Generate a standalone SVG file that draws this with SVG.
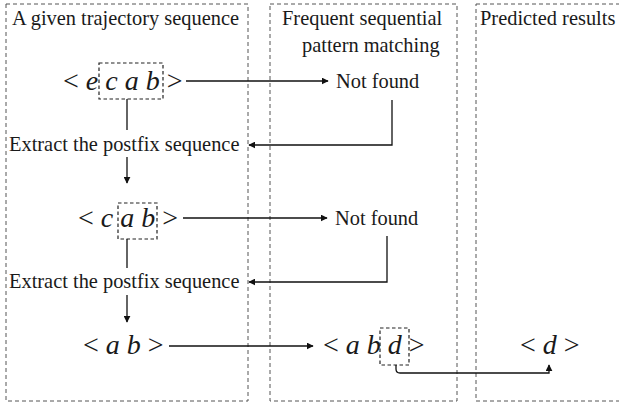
<svg xmlns="http://www.w3.org/2000/svg" width="619" height="406" viewBox="0 0 619 406">
<style>
.panel{fill:none;stroke:#555;stroke-width:1;stroke-dasharray:4 3}
.box{fill:none;stroke:#222;stroke-width:1.2;stroke-dasharray:3.5 2.5}
.lbl{font-family:"Liberation Serif","Times New Roman",serif;font-size:20.4px;fill:#1a1a1a}
.seq{font-family:"Liberation Serif","Times New Roman",serif;font-size:28px;fill:#1a1a1a}
.i{font-style:italic}
.c{fill:none;stroke:#111;stroke-width:1.3}
</style>
<defs>
<marker id="ah" viewBox="0 0 10 10" refX="9" refY="5" markerWidth="7" markerHeight="7" markerUnits="userSpaceOnUse" orient="auto">
<path d="M0,0 L10,5 L0,10 z" fill="#111"/>
</marker>
</defs>
<g id="panels">
<rect class="panel" x="6" y="4" width="242" height="397"/>
<rect class="panel" x="270" y="4" width="187" height="397"/>
<rect class="panel" x="476" y="4" width="150" height="397"/>
</g>
<g id="headers">
<text class="lbl" x="12" y="25">A given trajectory sequence</text>
<text class="lbl" x="282" y="25">Frequent sequential</text>
<text class="lbl" x="302" y="52">pattern matching</text>
<text class="lbl" x="480" y="25">Predicted results</text>
</g>
<g id="seq1">
<text class="seq" x="63" y="90">&lt; <tspan class="i">e</tspan> <tspan class="i">c</tspan> <tspan class="i">a</tspan> <tspan class="i">b</tspan> &gt;</text>
<rect class="box" x="99" y="63" width="64" height="36"/>
</g>
<g id="notfound1"><text class="lbl" x="336" y="88">Not found</text></g>
<g id="extract1"><text class="lbl" x="9" y="151">Extract the postfix sequence</text></g>
<g id="seq2">
<text class="seq" x="78" y="227">&lt; <tspan class="i">c</tspan> <tspan class="i">a</tspan> <tspan class="i">b</tspan> &gt;</text>
<rect class="box" x="118" y="203" width="39" height="36"/>
</g>
<g id="notfound2"><text class="lbl" x="335" y="225">Not found</text></g>
<g id="extract2"><text class="lbl" x="9" y="288">Extract the postfix sequence</text></g>
<g id="seq3">
<text class="seq" x="83" y="354">&lt; <tspan class="i">a</tspan> <tspan class="i">b</tspan> &gt;</text>
</g>
<g id="match">
<text class="seq" x="323" y="354">&lt; <tspan class="i">a</tspan> <tspan class="i">b</tspan> <tspan class="i">d</tspan> &gt;</text>
<rect class="box" x="380" y="328" width="29" height="37"/>
</g>
<g id="result">
<text class="seq" x="520" y="354">&lt; <tspan class="i">d</tspan> &gt;</text>
</g>
<g id="connectors">
<path class="c" d="M186 81 H328" marker-end="url(#ah)"/>
<path class="c" d="M392 100 V145 H249" marker-end="url(#ah)"/>
<path class="c" d="M127 99 V130"/>
<path class="c" d="M127 157 V183" marker-end="url(#ah)"/>
<path class="c" d="M183 218 H327" marker-end="url(#ah)"/>
<path class="c" d="M127 239 V268"/>
<path class="c" d="M387 236 V282 H249" marker-end="url(#ah)"/>
<path class="c" d="M127 295 V322" marker-end="url(#ah)"/>
<path class="c" d="M169 346 H313" marker-end="url(#ah)"/>
<path class="c" d="M396 365 V369 Q396 373 400 373 H549 V365" marker-end="url(#ah)"/>
</g>
</svg>
